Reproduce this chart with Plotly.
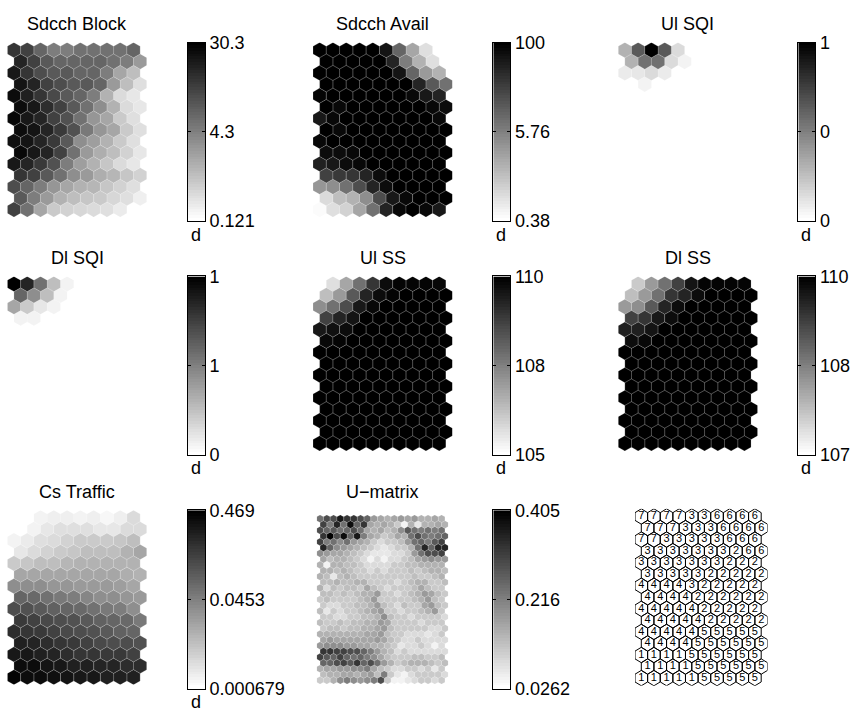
import numpy as np
import plotly.graph_objects as go

W, H = 856, 723
N = None

titles = ["Sdcch Block", "Sdcch Avail", "Ul SQI", "Dl SQI", "Ul SS", "Dl SS", "Cs Traffic", "U\u2212matrix"]
tick_labels = [
    ["0.121", "4.3", "30.3"],
    ["0.38", "5.76", "100"],
    ["0", "0", "1"],
    ["0", "1", "1"],
    ["105", "108", "110"],
    ["107", "108", "110"],
    ["0.000679", "0.0453", "0.469"],
    ["0.0262", "0.216", "0.405"],
]

# normalized component-plane values (0 = white, 1 = black), 15 rows x 10 cols
sdcch_block = [
    [0.80, 0.75, 0.60, 0.50, 0.50, 0.55, 0.55, 0.55, 0.55, 0.60],
    [0.85, 0.75, 0.65, 0.60, 0.60, 0.60, 0.60, 0.55, 0.50, 0.40],
    [0.90, 0.80, 0.70, 0.65, 0.65, 0.60, 0.60, 0.50, 0.35, 0.25],
    [0.92, 0.85, 0.75, 0.70, 0.65, 0.65, 0.60, 0.40, 0.25, 0.12],
    [0.95, 0.88, 0.80, 0.72, 0.65, 0.60, 0.50, 0.30, 0.15, 0.10],
    [0.95, 0.90, 0.82, 0.75, 0.65, 0.55, 0.45, 0.30, 0.15, 0.10],
    [0.97, 0.90, 0.85, 0.75, 0.68, 0.55, 0.42, 0.35, 0.20, 0.12],
    [0.95, 0.92, 0.85, 0.78, 0.68, 0.52, 0.42, 0.35, 0.20, 0.12],
    [0.93, 0.92, 0.85, 0.78, 0.65, 0.45, 0.38, 0.30, 0.20, 0.12],
    [0.97, 0.90, 0.85, 0.75, 0.55, 0.40, 0.32, 0.25, 0.18, 0.10],
    [0.90, 0.85, 0.78, 0.68, 0.50, 0.38, 0.30, 0.22, 0.15, 0.10],
    [0.80, 0.75, 0.65, 0.55, 0.45, 0.40, 0.32, 0.28, 0.22, 0.18],
    [0.70, 0.60, 0.50, 0.42, 0.35, 0.30, 0.28, 0.22, 0.18, 0.12],
    [0.65, 0.50, 0.40, 0.30, 0.25, 0.22, 0.20, 0.16, 0.12, 0.06],
    [0.75, 0.55, 0.35, 0.20, 0.18, 0.16, 0.14, 0.12, 0.08, N],
]
sdcch_avail = [
    [1.00, 1.00, 1.00, 1.00, 1.00, 0.92, 0.60, 0.35, 0.12, N],
    [1.00, 1.00, 1.00, 1.00, 1.00, 0.85, 0.50, 0.30, 0.12, N],
    [1.00, 1.00, 1.00, 1.00, 1.00, 1.00, 0.92, 0.60, 0.40, 0.30],
    [1.00, 1.00, 1.00, 1.00, 1.00, 1.00, 1.00, 0.85, 0.65, 0.55],
    [0.98, 1.00, 1.00, 1.00, 1.00, 1.00, 1.00, 0.97, 0.90, 0.85],
    [1.00, 0.97, 1.00, 1.00, 1.00, 1.00, 1.00, 1.00, 0.97, 0.95],
    [0.90, 0.97, 1.00, 1.00, 1.00, 1.00, 1.00, 1.00, 1.00, 0.97],
    [1.00, 0.97, 1.00, 1.00, 1.00, 1.00, 1.00, 1.00, 1.00, 1.00],
    [0.97, 1.00, 1.00, 1.00, 1.00, 1.00, 1.00, 1.00, 1.00, 1.00],
    [0.95, 0.95, 0.97, 1.00, 1.00, 1.00, 1.00, 1.00, 1.00, 1.00],
    [0.88, 0.90, 0.95, 0.97, 1.00, 1.00, 1.00, 1.00, 1.00, 1.00],
    [0.75, 0.78, 0.80, 0.85, 0.95, 1.00, 1.00, 1.00, 1.00, 1.00],
    [0.42, 0.45, 0.55, 0.70, 0.85, 0.95, 1.00, 1.00, 1.00, 1.00],
    [0.15, 0.25, 0.30, 0.45, 0.70, 0.90, 0.97, 1.00, 1.00, 1.00],
    [0.02, 0.12, 0.18, 0.35, 0.55, 0.85, 0.97, 1.00, 0.97, 0.90],
]
ul_sqi = [[N] * 10 for _ in range(15)]
ul_sqi[0][:5] = [0.30, 0.65, 1.00, 0.65, 0.15]
ul_sqi[1][:5] = [0.30, 0.55, 0.55, 0.15, 0.05]
ul_sqi[2][:4] = [0.08, 0.10, 0.15, 0.08]
ul_sqi[3][1] = 0.05
dl_sqi = [[N] * 10 for _ in range(15)]
dl_sqi[0][:5] = [1.00, 0.85, 0.55, 0.25, 0.05]
dl_sqi[1][:4] = [0.60, 0.45, 0.25, 0.05]
dl_sqi[2][:4] = [0.35, 0.20, 0.10, 0.05]
dl_sqi[3][:2] = [0.05, 0.05]

ul_ss = [[1.0] * 10 for _ in range(15)]
ul_ss[0] = [N, 0.12, 0.35, 0.55, 0.80, 0.95, 0.98, 0.98, 0.98, 0.97]
ul_ss[1] = [0.25, 0.40, 0.65, 0.85, 0.95, 0.99, 1.0, 1.0, 1.0, 1.0]
ul_ss[2] = [0.45, 0.55, 0.70, 0.90, 0.97, 1.0, 1.0, 1.0, 1.0, 1.0]
ul_ss[3] = [0.75, 0.85, 0.92, 1.0, 1.0, 1.0, 1.0, 1.0, 1.0, 1.0]
ul_ss[4] = [0.90, 0.93, 0.95, 1.0, 1.0, 1.0, 1.0, 1.0, 1.0, 1.0]
ul_ss[5] = [0.97, 0.98, 1.0, 1.0, 1.0, 1.0, 1.0, 1.0, 1.0, 1.0]

dl_ss = [[1.0] * 10 for _ in range(15)]
dl_ss[0] = [N, 0.20, 0.40, 0.55, 0.75, 0.92, 0.98, 0.98, 0.98, 0.98]
dl_ss[1] = [0.25, 0.40, 0.55, 0.80, 0.85, 0.95, 1.0, 1.0, 1.0, 1.0]
dl_ss[2] = [0.40, 0.45, 0.65, 0.85, 0.95, 1.0, 1.0, 1.0, 1.0, 1.0]
dl_ss[3] = [0.75, 0.80, 0.90, 0.95, 1.0, 1.0, 1.0, 1.0, 1.0, 1.0]
dl_ss[4] = [0.87, 0.88, 0.92, 1.0, 1.0, 1.0, 1.0, 1.0, 1.0, 1.0]
dl_ss[5] = [0.95, 0.97, 1.0, 1.0, 1.0, 1.0, 1.0, 1.0, 1.0, 1.0]

cs_traffic = [
    [N, N, 0.04, 0.07, 0.07, 0.05, 0.07, 0.03, 0.06, 0.15],
    [N, 0.04, 0.10, 0.12, 0.12, 0.12, 0.10, 0.10, 0.15, 0.15],
    [0.05, 0.08, 0.12, 0.15, 0.18, 0.20, 0.20, 0.20, 0.22, 0.25],
    [0.10, 0.15, 0.18, 0.20, 0.22, 0.25, 0.25, 0.25, 0.30, 0.35],
    [0.20, 0.22, 0.25, 0.25, 0.28, 0.30, 0.30, 0.30, 0.30, 0.30],
    [0.35, 0.35, 0.35, 0.35, 0.35, 0.35, 0.35, 0.35, 0.32, 0.30],
    [0.45, 0.45, 0.45, 0.42, 0.42, 0.40, 0.40, 0.40, 0.38, 0.35],
    [0.60, 0.58, 0.55, 0.52, 0.50, 0.48, 0.45, 0.45, 0.42, 0.40],
    [0.70, 0.68, 0.65, 0.62, 0.60, 0.58, 0.55, 0.52, 0.50, 0.45],
    [0.78, 0.75, 0.72, 0.70, 0.68, 0.65, 0.62, 0.60, 0.58, 0.52],
    [0.82, 0.80, 0.78, 0.75, 0.72, 0.70, 0.68, 0.65, 0.62, 0.60],
    [0.88, 0.85, 0.82, 0.80, 0.78, 0.75, 0.72, 0.70, 0.70, 0.68],
    [0.90, 0.90, 0.88, 0.85, 0.83, 0.80, 0.80, 0.78, 0.78, 0.75],
    [0.95, 0.95, 0.92, 0.90, 0.88, 0.87, 0.85, 0.85, 0.83, 0.82],
    [0.98, 0.96, 0.95, 0.93, 0.92, 0.90, 0.90, 0.88, 0.88, 0.88],
]

# U-matrix, 29 rows x 19 cols
u_matrix = [
    [0.55, 0.70, 0.70, 0.90, 0.80, 0.80, 0.70, 0.60, 0.40, 0.35, 0.30, 0.35, 0.40, 0.35, 0.40, 0.30, 0.30, 0.35, 0.30],
    [0.75, 0.50, 0.85, 0.55, 0.95, 0.60, 0.80, 0.35, 0.30, 0.35, 0.30, 0.20, 0.05, 0.30, 0.10, 0.30, 0.30, 0.35, 0.30],
    [0.70, 0.60, 0.65, 0.55, 0.60, 0.70, 0.55, 0.35, 0.30, 0.35, 0.25, 0.30, 0.45, 0.65, 0.55, 0.50, 0.55, 0.50, 0.55],
    [0.80, 1.00, 0.70, 0.95, 0.60, 0.90, 0.50, 0.35, 0.30, 0.20, 0.25, 0.35, 0.30, 0.55, 0.70, 0.55, 0.50, 0.55, 0.60],
    [0.75, 0.50, 0.55, 0.45, 0.55, 0.40, 0.35, 0.30, 0.20, 0.15, 0.20, 0.20, 0.25, 0.40, 0.55, 0.60, 0.50, 0.65, 0.75],
    [0.85, 0.60, 0.45, 0.40, 0.35, 0.30, 0.25, 0.20, 0.15, 0.10, 0.15, 0.20, 0.20, 0.30, 0.55, 0.85, 0.60, 0.85, 0.85],
    [0.45, 0.40, 0.35, 0.35, 0.30, 0.25, 0.20, 0.15, 0.10, 0.10, 0.10, 0.15, 0.15, 0.20, 0.40, 0.55, 0.70, 0.70, 0.75],
    [0.35, 0.25, 0.30, 0.30, 0.25, 0.20, 0.15, 0.05, 0.15, 0.05, 0.15, 0.15, 0.20, 0.25, 0.35, 0.40, 0.45, 0.40, 0.40],
    [0.30, 0.05, 0.30, 0.30, 0.25, 0.25, 0.20, 0.15, 0.15, 0.15, 0.15, 0.20, 0.20, 0.25, 0.25, 0.30, 0.30, 0.30, 0.30],
    [0.30, 0.30, 0.25, 0.30, 0.25, 0.20, 0.20, 0.15, 0.20, 0.15, 0.20, 0.20, 0.20, 0.25, 0.20, 0.25, 0.30, 0.30, 0.25],
    [0.30, 0.25, 0.10, 0.25, 0.30, 0.25, 0.20, 0.20, 0.20, 0.20, 0.20, 0.20, 0.20, 0.20, 0.25, 0.20, 0.20, 0.25, 0.30],
    [0.25, 0.25, 0.30, 0.25, 0.25, 0.30, 0.30, 0.20, 0.20, 0.20, 0.20, 0.15, 0.20, 0.25, 0.30, 0.30, 0.20, 0.20, 0.25],
    [0.30, 0.15, 0.25, 0.20, 0.25, 0.25, 0.20, 0.35, 0.25, 0.20, 0.15, 0.20, 0.20, 0.20, 0.25, 0.35, 0.25, 0.20, 0.20],
    [0.25, 0.25, 0.20, 0.25, 0.20, 0.25, 0.30, 0.30, 0.40, 0.20, 0.20, 0.15, 0.20, 0.25, 0.30, 0.40, 0.35, 0.25, 0.20],
    [0.20, 0.25, 0.20, 0.20, 0.20, 0.20, 0.25, 0.30, 0.40, 0.20, 0.20, 0.20, 0.20, 0.20, 0.25, 0.30, 0.40, 0.25, 0.20],
    [0.20, 0.15, 0.15, 0.20, 0.20, 0.25, 0.25, 0.30, 0.40, 0.25, 0.20, 0.15, 0.25, 0.20, 0.20, 0.35, 0.40, 0.25, 0.20],
    [0.25, 0.10, 0.20, 0.15, 0.20, 0.20, 0.25, 0.30, 0.35, 0.40, 0.20, 0.20, 0.15, 0.20, 0.20, 0.25, 0.30, 0.40, 0.20],
    [0.20, 0.20, 0.15, 0.15, 0.20, 0.20, 0.25, 0.25, 0.30, 0.45, 0.25, 0.20, 0.20, 0.15, 0.20, 0.20, 0.20, 0.20, 0.15],
    [0.25, 0.20, 0.20, 0.25, 0.20, 0.25, 0.25, 0.30, 0.30, 0.40, 0.35, 0.20, 0.20, 0.20, 0.20, 0.15, 0.20, 0.20, 0.20],
    [0.20, 0.25, 0.25, 0.20, 0.25, 0.25, 0.30, 0.30, 0.35, 0.40, 0.25, 0.20, 0.20, 0.20, 0.20, 0.20, 0.15, 0.15, 0.20],
    [0.30, 0.30, 0.30, 0.30, 0.30, 0.30, 0.30, 0.35, 0.35, 0.40, 0.25, 0.20, 0.20, 0.15, 0.15, 0.15, 0.10, 0.15, 0.20],
    [0.35, 0.40, 0.35, 0.35, 0.35, 0.35, 0.35, 0.35, 0.40, 0.35, 0.25, 0.20, 0.15, 0.15, 0.20, 0.15, 0.15, 0.15, 0.15],
    [0.40, 0.45, 0.45, 0.45, 0.40, 0.40, 0.35, 0.35, 0.30, 0.30, 0.25, 0.20, 0.10, 0.15, 0.15, 0.20, 0.15, 0.05, 0.15],
    [0.80, 0.80, 0.75, 0.75, 0.70, 0.70, 0.60, 0.50, 0.40, 0.30, 0.25, 0.15, 0.20, 0.15, 0.15, 0.15, 0.15, 0.15, 0.15],
    [0.75, 0.65, 0.60, 0.75, 0.60, 0.55, 0.60, 0.50, 0.45, 0.35, 0.25, 0.20, 0.20, 0.20, 0.25, 0.25, 0.20, 0.20, 0.25],
    [0.60, 0.60, 0.70, 0.75, 0.65, 0.80, 0.60, 0.70, 0.55, 0.40, 0.30, 0.20, 0.25, 0.30, 0.30, 0.30, 0.25, 0.20, 0.25],
    [0.30, 0.35, 0.35, 0.40, 0.40, 0.45, 0.45, 0.50, 0.35, 0.25, 0.20, 0.15, 0.15, 0.20, 0.20, 0.15, 0.20, 0.10, 0.20],
    [0.25, 0.30, 0.30, 0.35, 0.35, 0.30, 0.35, 0.40, 0.25, 0.50, 0.20, 0.10, 0.05, 0.15, 0.20, 0.20, 0.20, 0.20, 0.15],
    [0.20, 0.20, 0.30, 0.45, 0.50, 0.45, 0.40, 0.45, 0.50, 0.70, 0.20, 0.05, 0.05, 0.10, 0.15, 0.20, 0.20, 0.15, 0.20],
]

cluster_labels = [
    [7, 7, 7, 7, 3, 3, 6, 6, 6, 6],
    [7, 7, 7, 3, 3, 3, 6, 6, 6, 6],
    [7, 7, 3, 3, 3, 3, 3, 6, 6, 6],
    [3, 3, 3, 3, 3, 3, 3, 2, 6, 6],
    [3, 3, 3, 3, 3, 3, 3, 2, 2, 2],
    [3, 3, 3, 3, 3, 2, 2, 2, 2, 2],
    [4, 4, 4, 4, 3, 2, 2, 2, 2, 2],
    [4, 4, 4, 4, 2, 2, 2, 2, 2, 2],
    [4, 4, 4, 4, 4, 2, 2, 2, 2, 2],
    [4, 4, 4, 4, 4, 2, 2, 2, 2, 2],
    [4, 4, 4, 4, 4, 5, 5, 5, 5, 5],
    [4, 4, 4, 4, 5, 5, 5, 5, 5, 5],
    [1, 1, 1, 1, 5, 5, 5, 5, 5, 5],
    [1, 1, 1, 1, 5, 5, 5, 5, 5, 5],
    [1, 1, 1, 1, 1, 5, 5, 5, 5, 5],
]

planes = [sdcch_block, sdcch_avail, ul_sqi, dl_sqi, ul_ss, dl_ss, cs_traffic, u_matrix]

FONT = "Liberation Sans, Arial, Helvetica, sans-serif"
FS = 18
NLEV = 64
S3 = np.sqrt(3.0)

fig = go.Figure()
layout = {}
axn = [0]


def new_axes(px0, px1, py0, py1, xr, yr):
    axn[0] += 1
    k = axn[0]
    sfx = "" if k == 1 else str(k)
    xa = dict(domain=[px0 / W, px1 / W], range=xr, visible=False, fixedrange=True,
              anchor="y" + sfx)
    ya = dict(domain=[1 - py1 / H, 1 - py0 / H], range=yr, visible=False, fixedrange=True,
              anchor="x" + sfx)
    layout["xaxis" + sfx] = xa
    layout["yaxis" + sfx] = ya
    return sfx


def hex_xy(cx, cy, w):
    R = w / S3
    xs, ys = [], []
    for a in [30, 90, 150, 210, 270, 330, 30]:
        t = np.radians(a)
        xs.append(cx + R * np.cos(t))
        ys.append(cy + R * np.sin(t))
    return xs, ys


def draw_plane(vals, sfx, w, edge):
    groups = {}
    for r in range(len(vals)):
        for c, v in enumerate(vals[r]):
            if v is None:
                continue
            lev = int(round(v * (NLEV - 1)))
            cx = c * w + (w / 2 if r % 2 else 0)
            cy = -r * w * S3 / 2
            xs, ys = hex_xy(cx, cy, w)
            gx, gy = groups.setdefault(lev, ([], []))
            gx.extend(xs + [None])
            gy.extend(ys + [None])
    for lev, (gx, gy) in sorted(groups.items()):
        g = int(round(255 * (1 - lev / (NLEV - 1))))
        col = f"rgb({g},{g},{g})"
        fig.add_trace(go.Scatter(x=gx, y=gy, mode="lines", fill="toself", fillcolor=col,
                                 line=dict(color=edge, width=0.8), hoverinfo="skip",
                                 showlegend=False, xaxis="x" + sfx, yaxis="y" + sfx))


def draw_colorbar(px0, py0, py1, labels):
    sfx = new_axes(px0, px0 + 17, py0, py1, [-0.5, 0.5], [-0.5001, NLEV - 0.4999])
    layout["xaxis" + sfx].update(visible=True, showline=True, mirror=True, linecolor="black",
                                 linewidth=1, ticks="", showticklabels=False, showgrid=False,
                                 zeroline=False)
    layout["yaxis" + sfx].update(visible=True, showline=True, mirror="ticks", linecolor="black",
                                 linewidth=1, side="right", ticks="inside", ticklen=3,
                                 tickcolor="black", tickmode="array",
                                 tickvals=[-0.5, (NLEV - 1) / 2, NLEV - 0.5], ticktext=labels,
                                 tickfont=dict(family=FONT, size=FS, color="black"),
                                 showgrid=False, zeroline=False)
    fig.add_trace(go.Heatmap(z=[[i] for i in range(NLEV)], x=[0], y=list(range(NLEV)),
                             colorscale=[[0, "rgb(255,255,255)"], [1, "rgb(0,0,0)"]],
                             zmin=0, zmax=NLEV - 1, showscale=False, hoverinfo="skip",
                             xaxis="x" + sfx, yaxis="y" + sfx))


annotations = []
col_left = [7.3, 313.0, 618.2]
cb_left = [188.0, 493.3, 798.3]
row_top = [33.5, 274.0, 514.5]
MAP_W, MAP_H, CB_H = 139.5, 179.5, 183.5

for i, vals in enumerate(planes):
    r, c = divmod(i, 3)
    x0, y0 = col_left[c], row_top[r]
    is_u = (i == 7)
    if is_u:
        w = 0.5
        nr, nc = 29, 19
        mx0, mx1, my0, my1 = 316.7, 448.3, 519.3, 693.3
    else:
        w = 1.0
        nr, nc = 15, 10
        mx0, mx1, my0, my1 = x0, x0 + MAP_W, y0, y0 + MAP_H
    xr = [-w / 2, (nc - 1) * w + w]
    yr = [-(nr - 1) * w * S3 / 2 - w / S3, w / S3]
    sfx = new_axes(mx0, mx1, my0, my1, xr, yr)
    draw_plane(vals, sfx, w, "rgba(255,255,255,0.22)")
    draw_colorbar(cb_left[c], y0, y0 + CB_H, tick_labels[i])
    annotations.append(dict(x=(x0 + MAP_W / 2) / W, y=1 - (y0 - 19) / H, xref="paper", yref="paper",
                            text=titles[i], showarrow=False, xanchor="center", yanchor="middle",
                            font=dict(family=FONT, size=FS, color="black")))
    if not is_u:
        annotations.append(dict(x=(cb_left[c] + 1) / W, y=1 - (y0 + CB_H + 14) / H,
                                xref="paper", yref="paper", text="d", showarrow=False,
                                xanchor="left", yanchor="middle",
                                font=dict(family=FONT, size=FS, color="black")))

# cluster label map
xr = [-0.5, 10.0]
yr = [-14 * S3 / 2 - 1 / S3, 1 / S3]
sfx = new_axes(635.0, 767.5, 513.0, 695.0, xr, yr)
lx, ly, tx, ty, tt = [], [], [], [], []
for r in range(15):
    for c in range(10):
        cx = c + (0.5 if r % 2 else 0)
        cy = -r * S3 / 2
        xs, ys = hex_xy(cx, cy, 1.0)
        lx.extend(xs + [None])
        ly.extend(ys + [None])
        tx.append(cx)
        ty.append(cy)
        tt.append(str(cluster_labels[r][c]))
fig.add_trace(go.Scatter(x=lx, y=ly, mode="lines", fill="toself", fillcolor="white",
                         line=dict(color="black", width=1), hoverinfo="skip",
                         showlegend=False, xaxis="x" + sfx, yaxis="y" + sfx))
fig.add_trace(go.Scatter(x=tx, y=ty, mode="text", text=tt, textposition="middle center",
                         textfont=dict(family=FONT, size=11, color="black"), hoverinfo="skip",
                         showlegend=False, xaxis="x" + sfx, yaxis="y" + sfx))

layout.update(width=W, height=H, margin=dict(l=0, r=0, t=0, b=0), paper_bgcolor="white",
              plot_bgcolor="rgba(0,0,0,0)", showlegend=False, annotations=annotations,
              font=dict(family=FONT, size=FS, color="black"))
fig.update_layout(**layout)
fig.write_html("out.html", config={"displayModeBar": False, "staticPlot": True},
               post_script="document.body.style.margin='0px';")
